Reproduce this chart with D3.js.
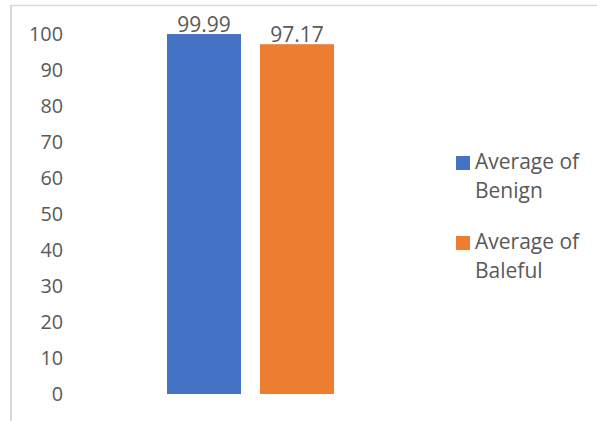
<!DOCTYPE html>
<html>
<head>
<meta charset="utf-8">
<script src="https://cdn.jsdelivr.net/npm/d3@7"></script>
<style>
  html, body { margin: 0; padding: 0; background: #fff; }
  svg { display: block; }
  text { font-family: "Open Sans", "Liberation Sans", sans-serif; fill: #595959; }
</style>
</head>
<body>
<svg id="chart" width="597" height="421"></svg>
<script>
const series = ["Average of Benign", "Average of Baleful"];
const legendLines = [["Average of", "Benign"], ["Average of", "Baleful"]];
const values = [99.99, 97.17];
const colors = ["#4472c4", "#ed7d31"];
const yTicks = [0, 10, 20, 30, 40, 50, 60, 70, 80, 90, 100];

const svg = d3.select("#chart");

// chart border (top and left visible)
svg.append("line").attr("x1", 10).attr("x2", 597).attr("y1", 5.5).attr("y2", 5.5)
  .attr("stroke", "#d9d9d9").attr("stroke-width", 1.5);
svg.append("line").attr("x1", 11).attr("x2", 11).attr("y1", 5).attr("y2", 421)
  .attr("stroke", "#d9d9d9").attr("stroke-width", 2);

const y = d3.scaleLinear().domain([0, 100]).range([394, 34]);
const x = d3.scaleBand().domain(series).range([167, 334]).paddingInner(0.204).paddingOuter(0);

// y axis labels (no line, no tick marks)
const yAxis = d3.axisLeft(y).tickValues(yTicks).tickSize(0).tickPadding(0);
const gy = svg.append("g").attr("transform", "translate(63,0)").call(yAxis);
gy.select(".domain").remove();
gy.selectAll("text")
  .style("font-size", "19.8px")
  .style("font-family", "'Open Sans', 'Liberation Sans', sans-serif")
  .attr("fill", "#595959")
  .attr("dy", "0.35em");

// bars
svg.selectAll("rect.bar").data(values).enter().append("rect")
  .attr("class", "bar")
  .attr("x", (d, i) => x(series[i]))
  .attr("width", x.bandwidth())
  .attr("y", d => y(d))
  .attr("height", d => y(0) - y(d))
  .attr("fill", (d, i) => colors[i]);

// data labels
svg.selectAll("text.lbl").data(values).enter().append("text")
  .attr("class", "lbl")
  .attr("x", (d, i) => x(series[i]) + x.bandwidth() / 2)
  .attr("y", d => y(d) - 2)
  .attr("text-anchor", "middle")
  .style("font-size", "21px")
  .text(d => d.toFixed(2));

// legend
const lg = svg.append("g");
legendLines.forEach((lines, i) => {
  const top = 156 + i * 80;
  lg.append("rect").attr("x", 456).attr("y", top).attr("width", 14).attr("height", 14)
    .attr("fill", colors[i]);
  lines.forEach((t, j) => {
    lg.append("text").attr("x", 475).attr("y", top + 13 + j * 29)
      .style("font-size", "21px").text(t);
  });
});
</script>
</body>
</html>
